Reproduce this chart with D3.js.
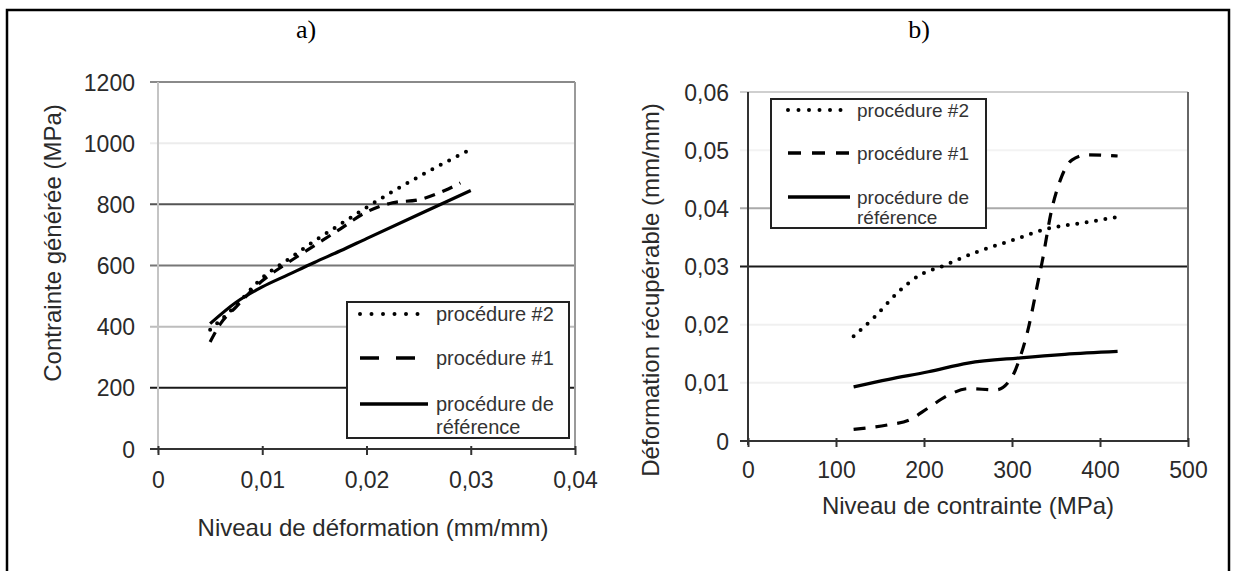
<!DOCTYPE html>
<html><head><meta charset="utf-8">
<script src="https://cdn.jsdelivr.net/npm/d3@7"></script>
<style>
body{margin:0;background:#fff}
svg{display:block}
text{font-family:"Liberation Sans",Arial,sans-serif;fill:#222}
</style>
</head><body>
<svg id="c" width="1233" height="571"></svg>
<script>
// ---------- DATA ----------
// Chart a) : Niveau de déformation (mm/mm) vs Contrainte générée (MPa)
const aXTicks = [0, 0.01, 0.02, 0.03, 0.04];
const aYTicks = [0, 200, 400, 600, 800, 1000, 1200];
const aProc2 = [[0.005,390],[0.0075,470],[0.01,560],[0.0125,620],[0.015,680],[0.0175,735],[0.02,790],[0.025,890],[0.03,980]];
const aProc1 = [[0.005,350],[0.006,410],[0.0075,465],[0.01,550],[0.0125,610],[0.015,665],[0.0175,720],[0.02,775],[0.0225,805],[0.025,815],[0.0275,845],[0.029,870]];
const aRef   = [[0.005,410],[0.0075,480],[0.01,530],[0.0125,570],[0.015,610],[0.0175,648],[0.02,688],[0.025,767],[0.03,845]];

// Chart b) : Niveau de contrainte (MPa) vs Déformation récupérable (mm/mm)
const bXTicks = [0, 100, 200, 300, 400, 500];
const bYTicks = [0, 0.01, 0.02, 0.03, 0.04, 0.05, 0.06];
const bProc2 = [[120,0.018],[145,0.0215],[170,0.0255],[195,0.0285],[220,0.030],[260,0.0325],[300,0.0345],[340,0.0365],[380,0.0375],[420,0.0385]];
const bProc1 = [[120,0.002],[160,0.0028],[183,0.0036],[205,0.0057],[228,0.0079],[250,0.009],[282,0.0088],[300,0.011],[309,0.0143],[318,0.019],[330,0.0277],[334,0.0306],[345,0.0397],[355,0.0449],[368,0.0483],[386,0.0492],[420,0.049]];
const bRef   = [[120,0.0093],[160,0.0106],[205,0.0119],[250,0.0134],[310,0.0143],[360,0.0149],[420,0.0154]];

const seriesNames = [["procédure #2"], ["procédure #1"], ["procédure de", "référence"]];
const panelTitles = ["a)", "b)"];
const axisTitlesA = ["Niveau de déformation (mm/mm)", "Contrainte générée (MPa)"];
const axisTitlesB = ["Niveau de contrainte (MPa)", "Déformation récupérable (mm/mm)"];

// ---------- STYLE ----------
const aGridColor = {0:"#333",200:"#1a1a1a",400:"#bdbdbd",600:"#777",800:"#555",1000:"#ececec",1200:"#8a8a8a"};
const bGridColor = {0:"#333",0.01:"#f0f0f0",0.02:"#f0f0f0",0.03:"#1a1a1a",0.04:"#aaa",0.05:"#f3f3f3",0.06:"#cfcfcf"};

const svg = d3.select("#c");
const fmt = d => String(d).replace(".", ",");

// outer frame
svg.append("rect").attr("x",7).attr("y",10).attr("width",1222).attr("height",600)
  .attr("fill","none").attr("stroke","#000").attr("stroke-width",2.5);

// panel titles
[[306, panelTitles[0]], [919, panelTitles[1]]].forEach(([x,t]) => {
  svg.append("text").attr("x",x).attr("y",38).attr("text-anchor","middle")
    .style("font-family",'"Liberation Serif","Times New Roman",serif').style("font-size","26px")
    .style("fill","#000").text(t);
});

function panel(cfg){
  const g = svg.append("g");
  const x = d3.scaleLinear().domain(cfg.xDom).range(cfg.xRange);
  const y = d3.scaleLinear().domain(cfg.yDom).range(cfg.yRange);
  const [x0,x1] = cfg.xRange, [y0,y1] = cfg.yRange;

  // gridlines (with left tick extension)
  g.selectAll(".grid").data(cfg.yTicks).join("line")
    .attr("x1", x0-8).attr("x2", x1)
    .attr("y1", d=>y(d)).attr("y2", d=>y(d))
    .attr("stroke", d=>cfg.gridColor[d]).attr("stroke-width", 2);
  // right edge
  g.append("line").attr("x1",x1).attr("x2",x1).attr("y1",y1).attr("y2",y0)
    .attr("stroke",cfg.rightColor).attr("stroke-width",2);
  // left axis line
  g.append("line").attr("x1",x0).attr("x2",x0).attr("y1",y1).attr("y2",y0+4)
    .attr("stroke",cfg.leftColor).attr("stroke-width",2);
  // x axis line
  g.append("line").attr("x1",x0-8).attr("x2",x1).attr("y1",y0).attr("y2",y0)
    .attr("stroke","#333").attr("stroke-width",2.2);

  // axes (labels) via d3 axis
  const ax = d3.axisBottom(x).tickValues(cfg.xTicks).tickFormat(fmt).tickSizeInner(6).tickSizeOuter(0).tickPadding(10);
  const axG = g.append("g").attr("transform",`translate(0,${y0})`).call(ax);
  axG.select(".domain").remove();
  axG.selectAll(".tick line").attr("stroke","#333").attr("stroke-width",2).attr("y1",-3);
  axG.selectAll(".tick text").attr("dy", null)
    .attr("y", cfg.xLabelY - y0).attr("dominant-baseline","central")
    .style("font-size","23px").style("fill","#2a2a2a");

  const ay = d3.axisLeft(y).tickValues(cfg.yTicks).tickFormat(fmt).tickSize(0).tickPadding(0);
  const ayG = g.append("g").attr("transform",`translate(${cfg.yLabelRight},0)`).call(ay);
  ayG.select(".domain").remove();
  ayG.selectAll(".tick text").attr("x",0).attr("dy",null).attr("dominant-baseline","central")
    .style("font-size","23px").style("fill","#2a2a2a");

  // axis titles
  g.append("text").attr("x",cfg.xTitle[0]).attr("y",cfg.xTitle[1]).attr("text-anchor","middle")
    .attr("dominant-baseline","central").style("font-size","24px").style("fill","#2a2a2a").text(cfg.titles[0]);
  g.append("text").attr("transform",`translate(${cfg.yTitle[0]},${cfg.yTitle[1]}) rotate(-90)`)
    .attr("text-anchor","middle").attr("dominant-baseline","central").style("font-size","24px")
    .style("fill","#2a2a2a").text(cfg.titles[1]);

  // legend box
  const L = cfg.legend;
  g.append("rect").attr("x",L.x).attr("y",L.y).attr("width",L.w).attr("height",L.h)
    .attr("fill","#fff").attr("stroke","#222").attr("stroke-width",2);

  const line = d3.line().x(d=>x(d[0])).y(d=>y(d[1])).curve(d3.curveMonotoneX);
  const styles = [
    {dash:"0,9.5", cap:"round", w:4},
    {dash:cfg.dataDash, cap:"butt", w:3.2},
    {dash:null, cap:"butt", w:3.2}
  ];
  cfg.series.forEach((s,i) => {
    g.append("path").datum(s).attr("d",line).attr("fill","none").attr("stroke","#000")
      .attr("stroke-width",styles[i].w).attr("stroke-linecap",styles[i].cap)
      .attr("stroke-dasharray",styles[i].dash);
  });

  // legend entries
  seriesNames.forEach((nm,i) => {
    const ly = L.rows[i];
    const ls = [
      {dash:L.dotDash, cap:"round", w:4},
      {dash:L.dashDash, cap:"butt", w:3.6},
      {dash:null, cap:"butt", w:3.6}
    ][i];
    g.append("line").attr("x1",L.lx0).attr("x2",L.lx1).attr("y1",ly).attr("y2",ly)
      .attr("stroke","#000").attr("stroke-width",ls.w).attr("stroke-linecap",ls.cap)
      .attr("stroke-dasharray",ls.dash);
    nm.forEach((t,k) => {
      g.append("text").attr("x",L.tx).attr("y",ly + k*L.lh).attr("dominant-baseline","central")
        .style("font-size",L.fs+"px").style("fill","#333").text(t);
    });
  });
}

panel({
  xDom:[0,0.04], yDom:[0,1200], xRange:[158,575], yRange:[449,82],
  xTicks:aXTicks, yTicks:aYTicks, gridColor:aGridColor,
  rightColor:"#9a9a9a", leftColor:"#c4c4c4",
  xLabelY:480, yLabelRight:135,
  xTitle:[373,527], yTitle:[52,243], titles:axisTitlesA,
  series:[aProc2,aProc1,aRef], dataDash:"11,8",
  legend:{x:347,y:302,w:222,h:136,rows:[314,358,404],lh:23,lx0:360,lx1:428,tx:436,fs:20,
          dotDash:"0,11.5", dashDash:"19,17"}
});

panel({
  xDom:[0,500], yDom:[0,0.06], xRange:[748,1188], yRange:[441,92],
  xTicks:bXTicks, yTicks:bYTicks, gridColor:bGridColor,
  rightColor:"#666", leftColor:"#333",
  xLabelY:470, yLabelRight:729,
  xTitle:[968,505], yTitle:[650,290], titles:axisTitlesB,
  series:[bProc2,bProc1,bRef], dataDash:"12,10",
  legend:{x:771,y:99,w:215,h:129,rows:[110,153,197],lh:20,lx0:788,lx1:850,tx:857,fs:19,
          dotDash:"0,10.5", dashDash:"13,11"}
});
</script>
</body></html>
